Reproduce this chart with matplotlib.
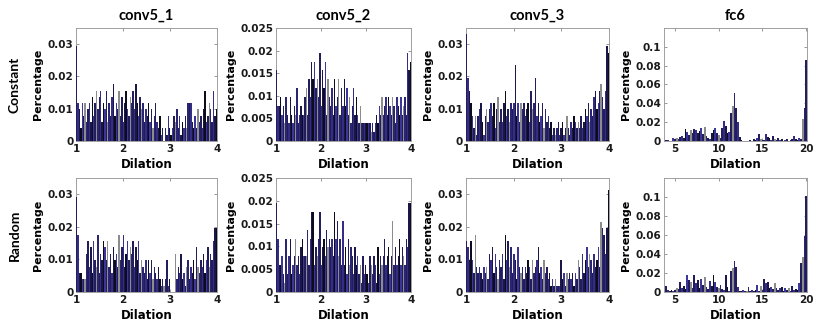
import numpy as np
import matplotlib
matplotlib.use("Agg")
import matplotlib.pyplot as plt
from matplotlib.ticker import FuncFormatter

# counts per dilation bin (conv layers: 512 channels, bins of 0.03 from 1 to 4)
conv5_1_const = [15, 6, 5, 2, 6, 4, 6, 3, 5, 6,
                 3, 7, 4, 6, 8, 5, 7, 8, 3, 6,
                 5, 8, 3, 6, 4, 7, 9, 4, 6, 5,
                 8, 4, 7, 3, 6, 8, 5, 4, 7, 6,
                 8, 5, 9, 6, 4, 7, 5, 6, 3, 5,
                 4, 6, 3, 5, 2, 4, 6, 3, 2, 4,
                 1, 2, 0, 2, 1, 4, 2, 1, 2, 4,
                 3, 5, 2, 4, 1, 3, 2, 4, 2, 6,
                 6, 6, 3, 2, 4, 2, 5, 3, 4, 2,
                 5, 8, 3, 4, 6, 5, 3, 8, 4, 5]
conv5_2_const = [8, 4, 4, 5, 3, 4, 2, 5, 3, 2,
                 5, 3, 2, 4, 3, 6, 2, 3, 4, 3,
                 3, 5, 6, 3, 7, 5, 9, 7, 9, 6,
                 7, 5, 10, 4, 8, 6, 9, 3, 7, 5,
                 4, 6, 3, 7, 4, 5, 7, 3, 6, 4,
                 7, 4, 6, 3, 5, 2, 4, 6, 3, 5,
                 3, 2, 4, 2, 2, 2, 2, 2, 2, 2,
                 1, 2, 1, 2, 3, 2, 4, 3, 5, 3,
                 4, 5, 3, 5, 4, 3, 5, 4, 2, 5,
                 4, 3, 5, 3, 4, 5, 3, 10, 8, 9]
conv5_3_const = [17, 10, 8, 6, 4, 2, 4, 1, 4, 5,
                 6, 3, 1, 4, 5, 3, 5, 6, 4, 6,
                 2, 5, 7, 3, 5, 3, 6, 8, 4, 5,
                 3, 6, 5, 6, 12, 4, 6, 3, 6, 5,
                 6, 4, 5, 6, 3, 8, 5, 6, 10, 4,
                 6, 3, 4, 6, 2, 5, 3, 4, 2, 3,
                 1, 2, 1, 2, 3, 1, 2, 3, 1, 2,
                 4, 2, 1, 3, 2, 4, 3, 2, 3, 2,
                 4, 2, 3, 5, 4, 6, 3, 5, 4, 7,
                 8, 5, 6, 8, 9, 7, 5, 8, 15, 14]
conv5_1_rand = [15, 9, 3, 3, 2, 2, 2, 6, 8, 4,
                7, 3, 8, 5, 4, 9, 3, 6, 5, 8,
                7, 5, 8, 4, 6, 3, 7, 5, 6, 4,
                9, 5, 7, 9, 4, 6, 8, 5, 7, 6,
                8, 4, 7, 5, 8, 3, 5, 4, 3, 5,
                2, 5, 3, 5, 2, 4, 3, 2, 4, 2,
                1, 2, 1, 2, 5, 1, 2, 0, 0, 0,
                6, 2, 4, 3, 6, 2, 3, 1, 4, 5,
                2, 4, 3, 5, 2, 7, 4, 3, 5, 4,
                6, 3, 5, 7, 4, 6, 5, 8, 10, 10]
conv5_2_rand = [10, 6, 3, 3, 4, 2, 1, 6, 2, 4,
                6, 2, 3, 4, 6, 3, 4, 2, 5, 6,
                4, 4, 4, 7, 3, 6, 9, 9, 3, 5,
                4, 6, 9, 3, 5, 6, 4, 7, 5, 6,
                5, 6, 4, 9, 6, 8, 4, 6, 3, 8,
                3, 5, 2, 6, 3, 5, 4, 2, 5, 3,
                4, 2, 3, 1, 4, 2, 3, 2, 1, 4,
                3, 2, 4, 3, 1, 5, 2, 4, 3, 4,
                6, 3, 4, 5, 2, 4, 8, 3, 5, 3,
                4, 6, 3, 5, 4, 3, 6, 5, 10, 10]
conv5_3_rand = [8, 7, 5, 8, 5, 3, 9, 4, 3, 4,
                3, 2, 4, 3, 4, 2, 6, 5, 7, 3,
                6, 4, 2, 5, 4, 6, 2, 9, 5, 8,
                4, 7, 3, 6, 5, 2, 7, 4, 3, 4,
                2, 4, 3, 5, 4, 2, 5, 3, 4, 5,
                7, 3, 4, 2, 5, 3, 4, 2, 3, 1,
                2, 1, 2, 1, 1, 1, 5, 2, 3, 1,
                3, 2, 3, 2, 3, 1, 3, 2, 5, 4,
                2, 6, 3, 5, 7, 4, 6, 5, 3, 6,
                4, 5, 7, 4, 11, 10, 9, 6, 10, 16]

# fc6 in units of 0.001, bins of 0.2 centred on 4.0 ... 20.0
fc6_const = [1, 1, 0, 0, 3, 2, 3, 2, 4, 5,
             3, 13, 10, 6, 12, 9, 13, 12, 9, 11,
             14, 7, 15, 5, 3, 2, 8, 12, 14, 9,
             6, 3, 14, 21, 16, 9, 10, 30, 37, 51,
             35, 20, 4, 1, 0, 0, 0, 0, 1, 0,
             2, 1, 3, 7, 2, 1, 1, 7, 4, 3,
             1, 5, 2, 1, 3, 1, 2, 0, 1, 2,
             0, 1, 2, 5, 2, 1, 3, 2, 23, 35,
             86]
fc6_rand = [6, 2, 1, 2, 1, 2, 4, 3, 11, 4,
            6, 3, 18, 13, 10, 4, 18, 9, 13, 4,
            14, 7, 16, 5, 3, 12, 6, 18, 11, 5,
            4, 7, 3, 2, 18, 5, 1, 22, 25, 33,
            26, 5, 1, 1, 2, 1, 1, 5, 1, 2,
            1, 2, 7, 1, 6, 2, 14, 9, 10, 4,
            5, 3, 9, 4, 2, 4, 5, 1, 4, 2,
            4, 1, 6, 2, 3, 2, 9, 31, 37, 59,
            101]

titles = ["conv5_1", "conv5_2", "conv5_3", "fc6"]
rows = ["Constant", "Random"]

bar_colors = ["#221e5c", "#332d85", "#1a1748", "#0d0c1c", "#3d3699",
              "#221e5c", "#8c8c8c", "#2a2570"]
title_font = "Lato"

fig = plt.figure(figsize=(8.22, 3.26), dpi=100)

lefts = [0.0925, 0.3358, 0.5669, 0.8078]
widths = [0.1715, 0.1642, 0.174, 0.174]
bottoms = [0.5675, 0.1043]
heights = [0.3466, 0.3497]

data = [[conv5_1_const, conv5_2_const, conv5_3_const, fc6_const],
        [conv5_1_rand, conv5_2_rand, conv5_3_rand, fc6_rand]]

fmt = FuncFormatter(lambda v, p: "{:g}".format(round(v, 4)))

for r in range(2):
    for c in range(4):
        ax = fig.add_axes([lefts[c], bottoms[r], widths[c], heights[r]])
        vals = np.array(data[r][c], dtype=float)
        if c < 3:
            vals = vals / 512.0
            x = 1.015 + 0.03 * np.arange(len(vals))
            w = 0.03
            ax.set_xlim(1, 4)
            ax.set_xticks([1, 2, 3, 4])
            if c == 1:
                ax.set_ylim(0, 0.025)
                ax.set_yticks([0, 0.005, 0.01, 0.015, 0.02, 0.025])
            else:
                ax.set_ylim(0, 0.035)
                ax.set_yticks([0, 0.01, 0.02, 0.03])
        else:
            vals = vals / 1000.0
            x = 4.0 + 0.2 * np.arange(len(vals))
            w = 0.2
            ax.set_xlim(3.75, 20.1)
            ax.set_xticks([5, 10, 15, 20])
            ax.set_ylim(0, 0.12)
            ax.set_yticks([0, 0.02, 0.04, 0.06, 0.08, 0.1])
        cols = [bar_colors[i % len(bar_colors)] for i in range(len(vals))]
        ax.bar(x, vals, width=w, color=cols, linewidth=0, zorder=3)

        ax.yaxis.set_major_formatter(fmt)
        ax.xaxis.set_major_formatter(fmt)
        ax.tick_params(direction="in", length=2, width=0.6, color="#888888",
                       top=True, right=True, labelsize=7.5, pad=2)
        for lab in ax.get_xticklabels() + ax.get_yticklabels():
            lab.set_fontweight("bold")
            lab.set_color("#1a1a1a")
        for s in ax.spines.values():
            s.set_color("#a0a0a0")
            s.set_linewidth(0.7)
        ax.set_ylabel("Percentage", fontsize=8, fontweight="bold", labelpad=3)
        ax.set_xlabel("Dilation", fontsize=8.5, fontweight="bold", labelpad=3)
        if r == 0:
            ax.set_title(titles[c], fontsize=10.5, fontweight="bold",
                         family=title_font, pad=6)

fig.text(0.018, bottoms[0] + heights[0] / 2, rows[0], rotation=90, va="center",
         ha="center", fontsize=10, fontweight="bold", family=title_font)
fig.text(0.018, bottoms[1] + heights[1] / 2, rows[1], rotation=90, va="center",
         ha="center", fontsize=10, fontweight="bold", family=title_font)

fig.savefig("out.png", dpi=100)
